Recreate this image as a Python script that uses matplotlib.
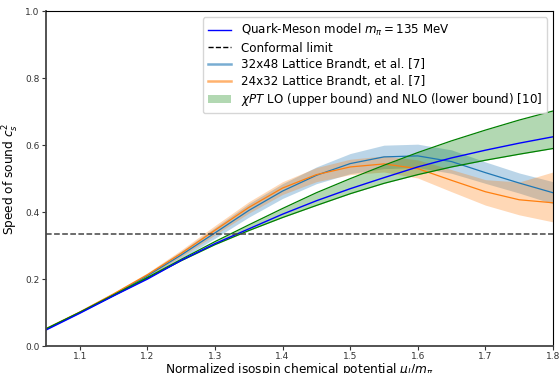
import matplotlib.pyplot as plt
from matplotlib.lines import Line2D
from matplotlib.patches import Patch

# normalized isospin chemical potential mu_I / m_pi
mu = [1.05, 1.10, 1.15, 1.20, 1.25, 1.30, 1.35, 1.40, 1.45, 1.50,
      1.55, 1.60, 1.65, 1.70, 1.75, 1.80]

# quark-meson model, m_pi = 135 MeV
cs2_qm = [0.048, 0.098, 0.150, 0.200, 0.256, 0.306, 0.350, 0.394, 0.434, 0.470,
          0.503, 0.535, 0.562, 0.585, 0.606, 0.625]

# chiral perturbation theory: LO (upper) and NLO (lower)
cs2_lo = [0.052, 0.101, 0.153, 0.205, 0.259, 0.312, 0.362, 0.411, 0.458, 0.500,
          0.540, 0.578, 0.613, 0.645, 0.675, 0.702]
cs2_nlo = [0.050, 0.100, 0.151, 0.203, 0.255, 0.303, 0.345, 0.384, 0.420, 0.455,
           0.486, 0.512, 0.535, 0.555, 0.573, 0.590]

# lattice 32x48 (central value and band)
cs2_l48 = [0.050, 0.101, 0.154, 0.210, 0.272, 0.338, 0.405, 0.463, 0.510, 0.545,
           0.565, 0.568, 0.551, 0.518, 0.487, 0.458]
l48_err = [0.001, 0.002, 0.004, 0.007, 0.011, 0.016, 0.020, 0.022, 0.025, 0.030,
           0.035, 0.035, 0.035, 0.032, 0.030, 0.033]

# lattice 24x32 (central value, lower and upper band edges)
cs2_l32 = [0.052, 0.102, 0.156, 0.213, 0.277, 0.346, 0.414, 0.472, 0.512, 0.535,
           0.544, 0.530, 0.495, 0.461, 0.437, 0.428]
l32_lo = [0.051, 0.100, 0.152, 0.207, 0.267, 0.332, 0.397, 0.453, 0.491, 0.512,
          0.520, 0.502, 0.461, 0.421, 0.392, 0.371]
l32_hi = [0.053, 0.104, 0.160, 0.219, 0.287, 0.360, 0.431, 0.491, 0.533, 0.558,
          0.568, 0.556, 0.527, 0.497, 0.490, 0.520]

conformal = 1.0 / 3.0

fig, ax = plt.subplots(figsize=(5.6, 3.73), dpi=100)
fig.subplots_adjust(left=0.082, right=0.9875, bottom=0.072, top=0.97)

l48_lo = [c - e for c, e in zip(cs2_l48, l48_err)]
l48_hi = [c + e for c, e in zip(cs2_l48, l48_err)]
ax.fill_between(mu, l48_lo, l48_hi, color='tab:blue', alpha=0.3, lw=0)
ax.plot(mu, cs2_l48, color='tab:blue', lw=0.9)
ax.fill_between(mu, l32_lo, l32_hi, color='tab:orange', alpha=0.3, lw=0)
ax.plot(mu, cs2_l32, color='tab:orange', lw=0.9)

ax.fill_between(mu, cs2_nlo, cs2_lo, color='green', alpha=0.3, lw=0)
ax.plot(mu, cs2_lo, color='green', lw=0.9)
ax.plot(mu, cs2_nlo, color='green', lw=0.9)

ax.plot(mu, cs2_qm, color='blue', lw=1.0)
ax.axhline(conformal, color='#444444', ls='--', lw=1.1)

ax.set_xlim(1.05, 1.8)
ax.set_ylim(0, 1)
ax.set_xticks([1.1, 1.2, 1.3, 1.4, 1.5, 1.6, 1.7, 1.8])
ax.set_yticks([0.0, 0.2, 0.4, 0.6, 0.8, 1.0])
ax.tick_params(labelsize=6.5, colors='#333333', length=3, pad=1.5)
for s in ('left', 'bottom'):
    ax.spines[s].set_color('#444444')
    ax.spines[s].set_linewidth(1.3)

ax.set_xlabel(r'Normalized isospin chemical potential $\mu_I/m_\pi$', fontsize=8.7, labelpad=-0.5)
ax.set_ylabel(r'Speed of sound $c_s^2$', fontsize=8.7, labelpad=3)

handles = [
    Line2D([], [], color='blue', lw=1.0),
    Line2D([], [], color='black', ls='--', lw=1.0),
    Line2D([], [], color='tab:blue', lw=1.8, alpha=0.6),
    Line2D([], [], color='tab:orange', lw=1.8, alpha=0.6),
    Patch(facecolor='green', alpha=0.3, lw=0),
]
labels = [
    r'Quark-Meson model $m_\pi = 135$ MeV',
    'Conformal limit',
    '32x48 Lattice Brandt, et al. [7]',
    '24x32 Lattice Brandt, et al. [7]',
    r'$\chi PT$ LO (upper bound) and NLO (lower bound) [10]',
]
ax.legend(handles, labels, loc='upper right', fontsize=8.6, labelspacing=0.3)

fig.savefig('out.png', dpi=100)
